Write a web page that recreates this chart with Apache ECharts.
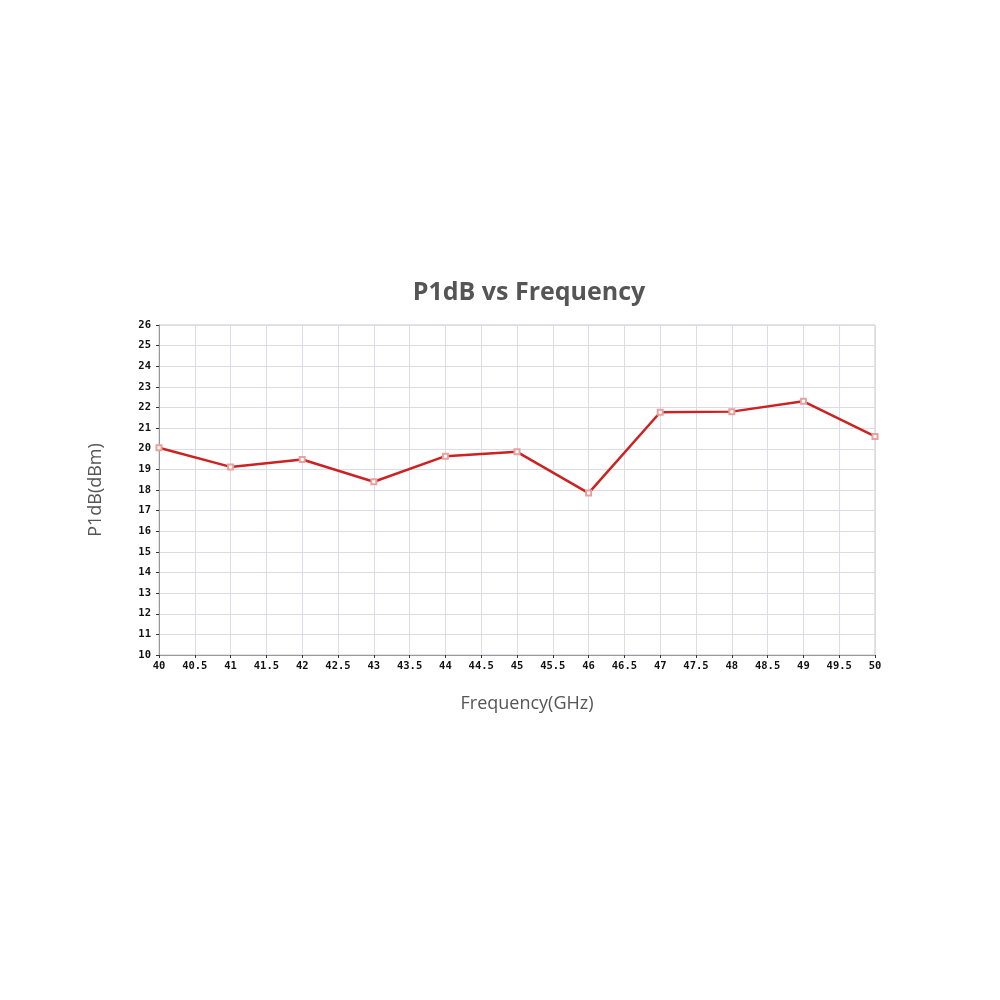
<!DOCTYPE html>
<html><head><meta charset="utf-8">
<script src="https://cdn.jsdelivr.net/npm/echarts@6/dist/echarts.min.js"></script>
<style>html,body{margin:0;padding:0;background:#fff}#c{width:1000px;height:1000px}</style>
</head><body><div id="c"></div>
<script>
const frequencies = [40, 41, 42, 43, 44, 45, 46, 47, 48, 49, 50];
const p1db = [20.05, 19.12, 19.48, 18.4, 19.64, 19.85, 17.85, 21.77, 21.8, 22.3, 20.6];
const titleText = 'P1dB vs Frequency';
const xName = 'Frequency(GHz)';
const yName = 'P1dB(dBm)';

const chart = echarts.init(document.getElementById('c'), null, {renderer: 'canvas'});
const tickFont = {fontFamily: 'DejaVu Sans Mono', fontWeight: 'bold', fontSize: 10.5, color: '#111'};
chart.setOption({
  backgroundColor: '#fff',
  animation: false,
  title: {
    text: titleText, left: 524, top: 275, textAlign: 'center',
    textStyle: {fontFamily: 'Open Sans', fontWeight: 'bold', fontSize: 25, color: '#555'}
  },
  grid: {left: 159, right: 125, top: 325, bottom: 345, show: true, borderColor: '#c8c8d0', borderWidth: 1},
  xAxis: {
    type: 'value', min: 40, max: 50, interval: 0.5,
    name: xName, nameLocation: 'middle', nameGap: 40,
    nameTextStyle: {fontFamily: 'Open Sans', fontSize: 18, color: '#555', padding: [0, 0, 0, 20]},
    axisLine: {lineStyle: {color: '#999', width: 1}},
    axisTick: {show: true, length: 3, inside: false, lineStyle: {color: '#333'}},
    axisLabel: Object.assign({margin: 6, formatter: v => String(v)}, tickFont),
    splitLine: {show: true, lineStyle: {color: '#dcdce6', width: 1}}
  },
  yAxis: {
    type: 'value', min: 10, max: 26, interval: 1,
    name: yName, nameLocation: 'middle', nameGap: 54, nameRotate: 90,
    nameTextStyle: {fontFamily: 'Open Sans', fontSize: 18, color: '#555'},
    axisLine: {show: true, lineStyle: {color: '#999', width: 1}},
    axisTick: {show: true, length: 3, inside: false, lineStyle: {color: '#333'}},
    axisLabel: Object.assign({margin: 8}, tickFont),
    splitLine: {show: true, lineStyle: {color: '#dcdce6', width: 1}}
  },
  series: [{
    type: 'line',
    data: frequencies.map((f, i) => [f, p1db[i]]),
    lineStyle: {color: '#cc2222', width: 2.5},
    symbol: 'emptyRect', symbolSize: 5,
    itemStyle: {color: '#e8a0a0', borderColor: '#d88080', borderWidth: 1},
    z: 3
  }]
});
</script></body></html>
